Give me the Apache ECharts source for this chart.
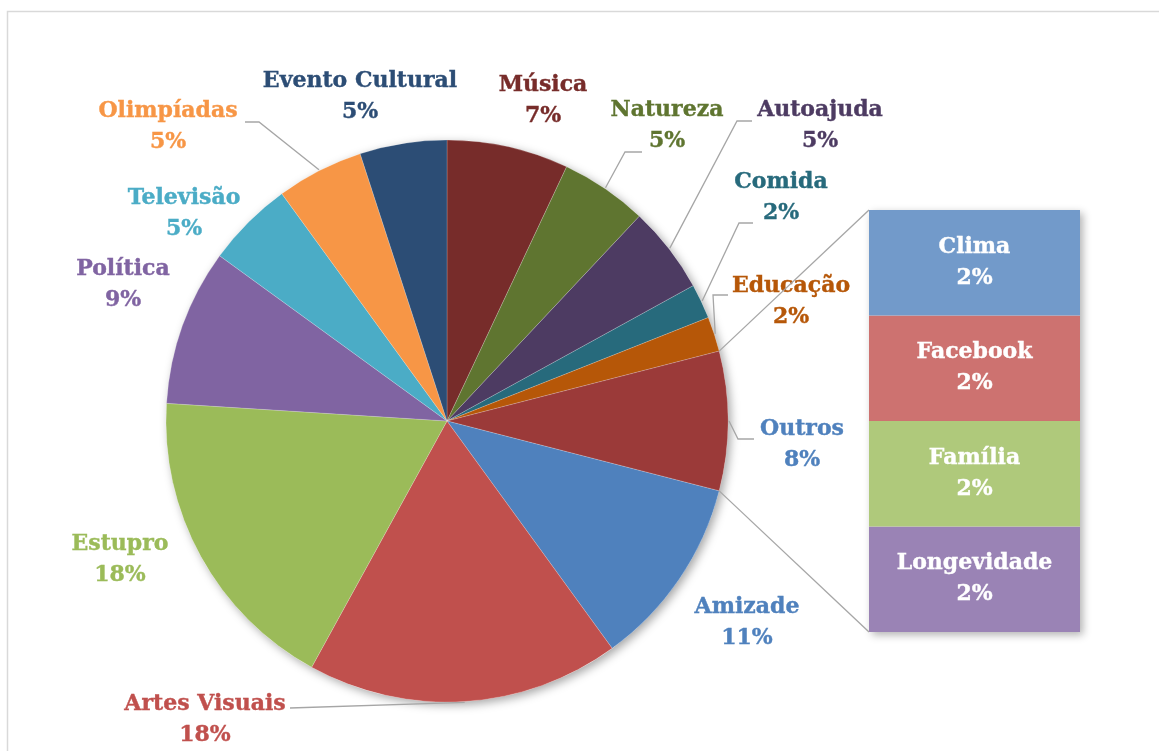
<!DOCTYPE html>
<html>
<head>
<meta charset="utf-8">
<script src="https://cdn.jsdelivr.net/npm/echarts@6/dist/echarts.min.js"></script>
<style>
  html, body { margin: 0; padding: 0; background: #fff; }
  #chart { width: 1159px; height: 751px; }
</style>
</head>
<body>
<div id="chart"></div>
<script>
// Pie slices, clockwise from 12 o'clock (percent of total)
const names = ['Música', 'Natureza', 'Autoajuda', 'Comida', 'Educação', 'Outros', 'Amizade',
  'Artes Visuais', 'Estupro', 'Política', 'Televisão', 'Olimpíadas', 'Evento Cultural'];
const shares = [7, 5, 5, 2, 2, 8, 11, 18, 18, 9, 5, 5, 5];

// Breakdown of "Outros", drawn as a stacked column (top to bottom)
const detailNames = ['Clima', 'Facebook', 'Família', 'Longevidade'];
const detailShares = [2, 2, 2, 2];

// Styling
const sliceColors = ['#772C2A', '#5F7530', '#4D3B62', '#276A7C', '#B65708', '#9B3A39', '#4F81BD',
  '#C0504D', '#9BBB59', '#8064A2', '#4BACC6', '#F79646', '#2C4D75'];
const labelColors = ['#772C2A', '#5F7530', '#4D3B62', '#276A7C', '#B65708', '#4F81BD', '#4F81BD',
  '#C0504D', '#9BBB59', '#8064A2', '#4BACC6', '#F79646', '#2C4D75'];
const detailColors = ['#729ACA', '#CD7270', '#AFC97B', '#9A83B5'];

// Layout
const FONT = 'DejaVu Serif';
const FS = 22;
const CX = 447, CY = 421, R = 281;
const GRID = { left: 869, top: 210, width: 211, height: 422 };
// centre of each slice label block
const labelCenters = [
  [543, 101], [667, 126], [820, 126], [781, 198], [791, 302], [802, 445], [747, 623],
  [205, 720], [120, 560], [123, 285], [184, 214], [168, 127], [360, 97]
];
// leader lines: slice index, then label-side end point and elbow point
const leaders = [
  [11, [245, 122], [259, 122]],
  [1, [642, 152], [625, 152]],
  [2, [752, 121], [737, 121]],
  [3, [753, 223], [739, 223]],
  [4, [728, 295], [713, 295]],
  [5, [754, 439], [738, 439]],
  [7, [290, 708], null]
];

const total = shares.reduce((a, b) => a + b, 0);
function pointAt(frac, r) {
  const t = frac * 2 * Math.PI;
  return [CX + r * Math.sin(t), CY - r * Math.cos(t)];
}
function cumBefore(i) {
  let s = 0;
  for (let k = 0; k < i; k++) s += shares[k];
  return s / total;
}

const chart = echarts.init(document.getElementById('chart'), null, { renderer: 'canvas' });

const detailSeries = [];
// bottom-most segment first so the stack reads top to bottom as detailNames
for (let i = detailNames.length - 1; i >= 0; i--) {
  detailSeries.push({
    type: 'bar',
    name: detailNames[i],
    stack: 'outros',
    barWidth: GRID.width,
    barGap: '-100%',
    data: [detailShares[i]],
    itemStyle: { color: detailColors[i] },
    label: {
      show: true,
      position: 'inside',
      formatter: '{a}\n{c}%',
      color: '#fff',
      textBorderColor: '#fff',
      textBorderWidth: 0.4,
      fontFamily: FONT,
      fontWeight: 'bold',
      fontSize: FS,
      lineHeight: 31
    },
    z: 3
  });
}
const detailTotal = detailShares.reduce((a, b) => a + b, 0);

const graphics = [];
// chart frame
graphics.push({
  type: 'rect', shape: { x: 7.5, y: 11.5, width: 1170, height: 800 },
  style: { fill: 'none', stroke: '#D9D9D9', lineWidth: 1.5 }, z: 0
});
// leader lines
leaders.forEach(([idx, end, elbow]) => {
  const mid = cumBefore(idx) + shares[idx] / total / 2;
  const p = pointAt(mid, R + 1);
  const pts = elbow ? [end, elbow, p] : [end, p];
  graphics.push({
    type: 'polyline', shape: { points: pts },
    style: { fill: 'none', stroke: '#A6A6A6', lineWidth: 1.3 }, z: 10
  });
});
// connectors from "Outros" slice edges to the column corners
const oStart = pointAt(cumBefore(5), R);
const oEnd = pointAt(cumBefore(6), R);
graphics.push({
  type: 'line', shape: { x1: oStart[0], y1: oStart[1], x2: GRID.left, y2: GRID.top },
  style: { stroke: '#A6A6A6', lineWidth: 1.3 }, z: 10
});
graphics.push({
  type: 'line', shape: { x1: oEnd[0], y1: oEnd[1], x2: GRID.left, y2: GRID.top + GRID.height },
  style: { stroke: '#A6A6A6', lineWidth: 1.3 }, z: 10
});

const option = {
  backgroundColor: '#fff',
  animation: false,
  grid: { left: GRID.left, top: GRID.top, width: GRID.width, height: GRID.height },
  xAxis: { type: 'category', data: ['Outros'], show: false },
  yAxis: { type: 'value', min: 0, max: detailTotal, show: false },
  graphic: graphics,
  series: [
    // soft shadow under the whole pie
    {
      type: 'pie', silent: true, center: [CX, CY], radius: R,
      label: { show: false }, labelLine: { show: false },
      data: [{ value: 1, itemStyle: { color: '#fff', shadowBlur: 10, shadowOffsetX: 3, shadowOffsetY: 3, shadowColor: 'rgba(0,0,0,0.35)' } }],
      z: 1
    },
    {
      type: 'pie', center: [CX, CY], radius: R, startAngle: 90, clockwise: true,
      avoidLabelOverlap: false,
      itemStyle: { borderColor: 'rgba(255,255,255,0.3)', borderWidth: 0.6 },
      label: {
        show: true, position: 'outside', formatter: '{b}\n{d}%',
        fontFamily: FONT, fontWeight: 'bold', fontSize: FS, lineHeight: 31,
        textBorderWidth: 0.4
      },
      labelLine: { show: false },
      labelLayout: function (p) {
        const c = labelCenters[p.dataIndex];
        return { x: c[0], y: c[1], align: 'center', verticalAlign: 'middle' };
      },
      data: names.map((n, i) => ({
        name: n, value: shares[i],
        itemStyle: { color: sliceColors[i] },
        label: { color: labelColors[i], textBorderColor: labelColors[i] }
      })),
      z: 2
    },
    // shadow behind the column
    {
      type: 'bar', silent: true, barWidth: GRID.width, barGap: '-100%',
      data: [detailTotal],
      itemStyle: { color: '#fff', shadowBlur: 8, shadowOffsetX: 3, shadowOffsetY: 3, shadowColor: 'rgba(0,0,0,0.3)' },
      z: 2
    }
  ].concat(detailSeries)
};
chart.setOption(option);
</script>
</body>
</html>
